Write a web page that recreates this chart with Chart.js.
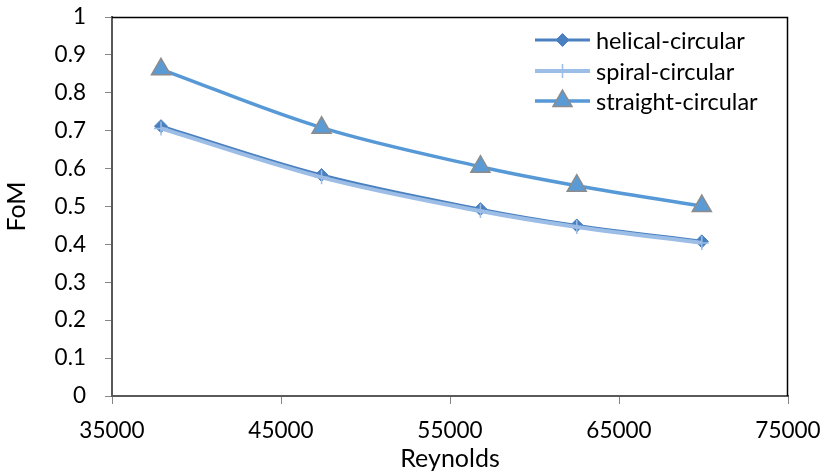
<!DOCTYPE html>
<html>
<head>
<meta charset="utf-8">
<title>FoM vs Reynolds</title>
<script src="https://cdn.jsdelivr.net/npm/chart.js@4/dist/chart.umd.min.js"></script>
<style>
  html, body { margin: 0; padding: 0; background: #ffffff; }
  #wrap { width: 823px; height: 474px; }
</style>
</head>
<body>
<div id="wrap"><canvas id="fom" width="823" height="474"></canvas></div>
<script>
// Reynolds numbers of the measured points
const reynolds = [37900, 47400, 56800, 62500, 69900];

// Figure of merit for each tube configuration
const helicalCircular = [0.712, 0.583, 0.493, 0.450, 0.408];
const spiralCircular = [0.706, 0.577, 0.488, 0.446, 0.404];
const straightCircular = [0.862, 0.708, 0.605, 0.555, 0.501];

const seriesNames = ['helical-circular', 'spiral-circular', 'straight-circular'];

// Axis tick labels
const xTickLabels = ['35000', '45000', '55000', '65000', '75000'];
const yTickLabels = ['0', '0.1', '0.2', '0.3', '0.4', '0.5', '0.6', '0.7', '0.8', '0.9', '1'];

const FONT = 'Lato, "Liberation Sans", sans-serif';

function toPoints(xs, ys) {
  return xs.map((x, i) => ({ x: x, y: ys[i] }));
}

// Plot-area frame (top and right edges) plus an in-plot legend
const framePlugin = {
  id: 'frame',
  beforeDatasetsDraw(chart) {
    const { ctx, chartArea: a } = chart;
    ctx.save();
    ctx.strokeStyle = '#000000';
    ctx.lineWidth = 1.5;
    ctx.beginPath();
    ctx.moveTo(a.left, a.top + 0.5);
    ctx.lineTo(a.right - 0.5, a.top + 0.5);
    ctx.lineTo(a.right - 0.5, a.bottom);
    ctx.stroke();
    ctx.restore();
  },
  afterDraw(chart) {
    const { ctx } = chart;
    const x0 = 535, x1 = 590, textX = 596;
    const rows = [40, 71, 101];
    ctx.save();
    chart.data.datasets.forEach((ds, i) => {
      const y = rows[i];
      ctx.strokeStyle = ds.borderColor;
      ctx.lineWidth = ds.borderWidth;
      ctx.lineCap = 'butt';
      ctx.beginPath();
      ctx.moveTo(x0, y);
      ctx.lineTo(x1, y);
      ctx.stroke();
      ctx.fillStyle = ds.pointBackgroundColor;
      ctx.strokeStyle = ds.pointBorderColor;
      ctx.lineWidth = ds.pointBorderWidth;
      Chart.helpers.drawPoint(ctx, {
        pointStyle: ds.pointStyle,
        radius: ds.pointRadius,
        borderWidth: ds.pointBorderWidth,
        rotation: 0
      }, (x0 + x1) / 2, y);
      ctx.fillStyle = '#000000';
      ctx.font = '23.5px ' + FONT;
      ctx.textAlign = 'left';
      ctx.textBaseline = 'middle';
      ctx.fillText(seriesNames[i], textX, y + 1);
    });
    ctx.restore();
  }
};

new Chart(document.getElementById('fom'), {
  type: 'line',
  data: {
    datasets: [
      {
        label: seriesNames[0],
        data: toPoints(reynolds, helicalCircular),
        borderColor: '#4A80BF',
        borderWidth: 3,
        pointStyle: 'rectRot',
        pointRadius: 6.5,
        pointHoverRadius: 6.5,
        pointBackgroundColor: '#4A80BF',
        pointBorderColor: '#4A80BF',
        pointBorderWidth: 1,
        tension: 0.35,
        order: 3
      },
      {
        label: seriesNames[1],
        data: toPoints(reynolds, spiralCircular),
        borderColor: '#9CBDE6',
        borderWidth: 4,
        pointStyle: 'cross',
        pointRadius: 7,
        pointHoverRadius: 7,
        pointBackgroundColor: '#9CBDE6',
        pointBorderColor: '#9CBDE6',
        pointBorderWidth: 1.5,
        tension: 0.35,
        order: 2
      },
      {
        label: seriesNames[2],
        data: toPoints(reynolds, straightCircular),
        borderColor: '#5699D6',
        borderWidth: 3.5,
        pointStyle: 'triangle',
        pointRadius: 11,
        pointHoverRadius: 11,
        pointBackgroundColor: '#5B9BD5',
        pointBorderColor: '#8C8C8C',
        pointBorderWidth: 1.5,
        tension: 0.35,
        order: 1
      }
    ]
  },
  options: {
    responsive: false,
    animation: false,
    events: [],
    layout: { padding: { left: 0, right: 35, top: 17, bottom: 0 } },
    plugins: {
      legend: { display: false },
      tooltip: { enabled: false }
    },
    scales: {
      x: {
        type: 'linear',
        min: 35000,
        max: 75000,
        afterFit(scale) {
          scale.height = 78;
          scale.paddingLeft = 0;
          scale.paddingRight = 0;
        },
        afterBuildTicks(scale) {
          scale.ticks = xTickLabels.map(t => ({ value: Number(t) }));
        },
        ticks: {
          color: '#000000',
          font: { family: FONT, size: 22.5 },
          padding: 13,
          maxRotation: 0,
          autoSkip: false,
          callback: (v, i) => xTickLabels[i]
        },
        grid: {
          display: true,
          drawOnChartArea: false,
          drawTicks: true,
          tickLength: 8,
          color: '#868686',
          lineWidth: 1
        },
        border: { display: true, color: '#595959', width: 2 },
        title: {
          display: true,
          text: 'Reynolds',
          color: '#000000',
          font: { family: FONT, size: 25 },
          padding: { top: 0, bottom: 0 }
        }
      },
      y: {
        type: 'linear',
        min: 0,
        max: 1,
        afterFit(scale) {
          scale.width = 112;
          scale.paddingTop = 0;
          scale.paddingBottom = 0;
        },
        afterBuildTicks(scale) {
          scale.ticks = yTickLabels.map(t => ({ value: Number(t) }));
        },
        ticks: {
          color: '#000000',
          font: { family: FONT, size: 22.5 },
          padding: 19,
          autoSkip: false,
          callback: (v, i) => yTickLabels[i]
        },
        grid: {
          display: true,
          drawOnChartArea: false,
          drawTicks: true,
          tickLength: 7,
          color: '#868686',
          lineWidth: 1
        },
        border: { display: true, color: '#595959', width: 2 },
        title: {
          display: true,
          text: 'FoM',
          color: '#000000',
          font: { family: FONT, size: 25 },
          padding: { top: 2, bottom: 0 }
        }
      }
    }
  },
  plugins: [framePlugin]
});
</script>
</body>
</html>
